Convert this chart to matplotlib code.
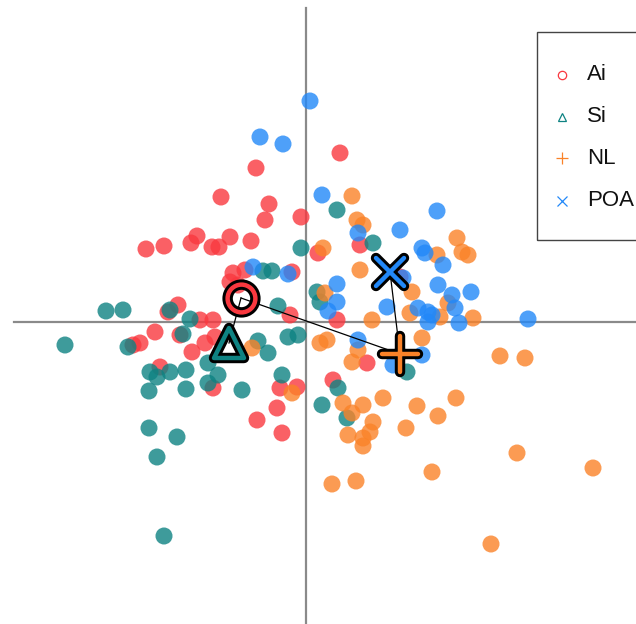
import matplotlib
matplotlib.use("Agg")
import matplotlib.pyplot as plt
from matplotlib.markers import MarkerStyle
from matplotlib.lines import Line2D
from matplotlib.patches import Rectangle

plt.rcParams['font.family'] = ['Liberation Sans', 'DejaVu Sans']

# ---- data (score space) ----
ai_x = [-0.50, -0.85, -0.37, -0.41, -0.05, 0.34, -1.60, -1.42, -1.15, -1.09, -0.94, -0.87, -0.76, -0.55,
        -0.73, -0.61, -0.76, -0.14, -1.28, -1.38, -0.16, -1.06, -0.93, -1.51, -1.66, -1.73, -1.14, -1.01,
        -0.91, -1.46, -0.93, -0.26, -0.09, -0.29, -0.49, -0.24, 0.12, 0.54, 0.94, 0.31, 0.61, 0.27, -0.68, -1.26]
ai_y = [1.54, 1.25, 1.18, 1.02, 1.05, 1.69, 0.73, 0.76, 0.79, 0.86, 0.75, 0.75, 0.85, 0.81,
        0.49, 0.52, 0.40, 0.50, 0.17, 0.10, 0.07, 0.02, 0.02, -0.10, -0.21, -0.23, -0.30, -0.21,
        -0.15, -0.45, -0.66, -0.66, -0.65, -0.86, -0.98, -1.11, 0.69, 0.77, 0.45, 0.02, -0.41, -0.58, 0.37, -0.13]

si_x = [-0.05, 0.31, 0.67, -2.00, -1.83, -1.36, -1.16, -0.43, -0.34, -0.28, 0.11, 0.14, -2.41, -1.78,
        -1.23, -1.56, -1.49, -1.36, -1.20, -1.57, -1.20, -0.98, -0.88, -0.98, -0.64, -0.48, -0.38, -0.24,
        -0.18, -0.08, -1.57, -1.29, -1.49, -1.42, 1.01, 0.32, 0.16, 0.41]
si_y = [0.74, 1.12, 0.79, 0.11, 0.12, 0.12, 0.03, 0.51, 0.51, 0.16, 0.30, 0.20, -0.23, -0.25,
        -0.12, -0.50, -0.55, -0.50, -0.48, -0.69, -0.67, -0.41, -0.53, -0.61, -0.68, -0.19, -0.31, -0.53,
        -0.15, -0.13, -1.06, -1.15, -1.35, -2.14, -0.50, -0.66, -0.83, -0.96]

nl_x = [0.46, 0.51, 0.57, 0.17, 0.54, 0.19, 1.51, 1.56, 1.62, 1.31, 1.06, 1.04, 0.66, 1.67, 1.34,
        0.14, 0.21, 0.52, 0.46, 1.16, 1.94, 2.19, 0.37, 0.57, 0.46, 0.77, 0.67, 0.64, 0.42, 0.57, 0.57,
        1.00, 1.11, 1.32, 1.50, 2.11, 2.87, 1.26, 0.26, 0.50, 1.85, -0.54, -0.14, 1.42]
nl_y = [1.26, 1.02, 0.97, 0.74, 0.52, 0.29, 0.84, 0.70, 0.67, 0.67, 0.30, 0.09, 0.02, 0.04, 0.05,
        -0.21, -0.18, -0.28, -0.40, -0.16, -0.34, -0.36, -0.81, -0.83, -0.91, -0.76, -1.00, -1.10, -1.13, -1.16, -1.24,
        -1.06, -0.84, -0.94, -0.76, -1.31, -1.46, -1.50, -1.62, -1.59, -2.22, -0.26, -0.71, 0.19]

poa_x = [0.04, -0.46, -0.23, 0.16, 1.31, 0.94, 0.52, 1.16, 1.19, 1.37, 0.31, 0.31, 0.22, 1.32, 1.46,
         1.49, 1.65, 0.81, 1.12, 1.22, 1.26, 1.53, 2.22, 0.97, -0.53, -0.18, 0.52, 0.87, 1.16, 1.22]
poa_y = [2.21, 1.85, 1.78, 1.27, 1.11, 0.92, 0.89, 0.74, 0.69, 0.57, 0.38, 0.20, 0.11, 0.37, 0.27,
         0.14, 0.30, 0.15, 0.14, 0.10, 0.07, -0.01, 0.03, 0.44, 0.55, 0.48, -0.18, -0.43, -0.33, 0.00]

groups = ['Ai', 'Si', 'NL', 'POA']
cent_x = [-0.65, -0.77, 0.94, 0.84]
cent_y = [0.24, -0.21, -0.32, 0.50]

colors = ['#F9383F', '#0E8282', '#FA8228', '#2288F8']
markers = ['o', '^', '+', 'x']
data = [(ai_x, ai_y), (si_x, si_y), (nl_x, nl_y), (poa_x, poa_y)]

fig = plt.figure(figsize=(6.36, 6.24), dpi=100)
ax = fig.add_axes([0, 0, 1, 1])
ax.set_xlim(-3.06, 3.30)
ax.set_ylim(-3.02, 3.22)
ax.axis('off')

ax.axhline(0, xmin=14 / 636, xmax=1, color='#8a8a8a', lw=1.6, zorder=1)
ax.axvline(0, ymin=0, ymax=1 - 8 / 624, color='#8a8a8a', lw=1.6, zorder=1)

for (xs, ys), c in zip(data, colors):
    ax.scatter(xs, ys, s=150, color=c, alpha=0.8, edgecolors='none', zorder=2)

# links between centroids: Si-Ai, Ai-NL, POA-NL
links = [(1, 0), (0, 2), (3, 2)]
for a, b in links:
    ax.plot([cent_x[a], cent_x[b]], [cent_y[a], cent_y[b]], color='black', lw=0.9, zorder=3)

cent_sizes = [20, 22, 26, 20]
for i in range(4):
    ms = MarkerStyle(markers[i], fillstyle='none', capstyle='round', joinstyle='round')
    ax.plot(cent_x[i], cent_y[i], marker=ms, markersize=cent_sizes[i], mew=7.5,
            color='black', linestyle='none', zorder=4)
    ax.plot(cent_x[i], cent_y[i], marker=ms, markersize=cent_sizes[i], mew=3.2,
            color=colors[i], linestyle='none', zorder=5)

# legend (manual, clipped at right edge like the reference)
fig.add_artist(Rectangle((537 / 636, 1 - 240 / 624), 0.3, (240 - 32) / 624,
                         transform=fig.transFigure, fill=False, edgecolor='#444444', lw=1.0))
leg_y = [75, 117, 158, 201]
leg_ms = [6, 6, 8, 6.5]
for i in range(4):
    yy = 1 - leg_y[i] / 624
    fig.add_artist(Line2D([562 / 636], [yy], marker=markers[i], markersize=leg_ms[i],
                          markerfacecolor='none', markeredgecolor=colors[i], mew=0.9,
                          linestyle='none', transform=fig.transFigure))
    fig.text(587 / 636, yy, groups[i], fontsize=16, va='center', ha='left', color='#111111')

fig.savefig('out.png', dpi=100)
